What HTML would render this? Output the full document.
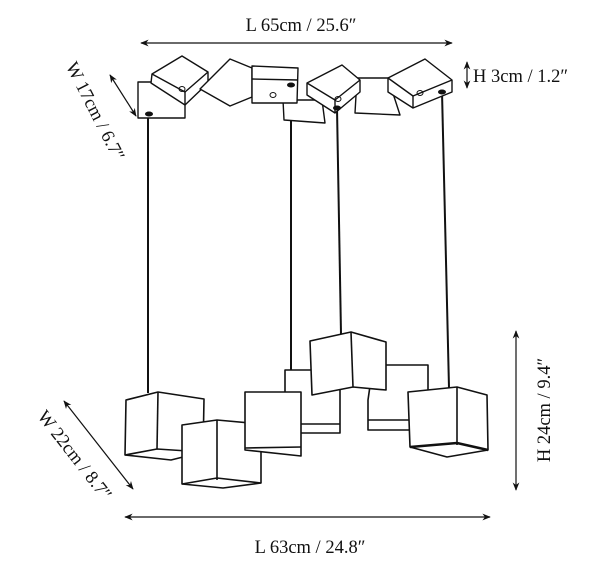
<!DOCTYPE html>
<html><head><meta charset="utf-8"><style>
html,body{margin:0;padding:0;background:#fff;}
svg{display:block;}
text{font-family:"Liberation Serif","DejaVu Serif",serif;font-size:18.5px;fill:#111;}
</style></head><body>
<svg width="600" height="573" viewBox="0 0 600 573" xmlns="http://www.w3.org/2000/svg">
<defs>
<marker id="a" viewBox="0 0 10 10" refX="9" refY="5" markerWidth="7" markerHeight="7" orient="auto-start-reverse"><path d="M0,1 L10,5 L0,9 L3,5 z" fill="#111"/></marker>
</defs>
<g stroke="#111" stroke-width="1.2" fill="none">
<line x1="141" y1="43" x2="452" y2="43" marker-start="url(#a)" marker-end="url(#a)"/>
<line x1="467" y1="62" x2="467" y2="88" marker-start="url(#a)" marker-end="url(#a)"/>
<line x1="110" y1="75" x2="136" y2="116" marker-start="url(#a)" marker-end="url(#a)"/>
<line x1="125" y1="517" x2="490" y2="517" marker-start="url(#a)" marker-end="url(#a)"/>
<line x1="516" y1="331" x2="516" y2="490" marker-start="url(#a)" marker-end="url(#a)"/>
<line x1="64" y1="401" x2="133" y2="489" marker-start="url(#a)" marker-end="url(#a)"/>
</g>
<text x="301" y="31" text-anchor="middle">L 65cm / 25.6″</text>
<text x="473" y="82">H 3cm / 1.2″</text>
<text x="310" y="553" text-anchor="middle">L 63cm / 24.8″</text>
<text transform="translate(550,410) rotate(-90)" text-anchor="middle">H 24cm / 9.4″</text>
<text transform="translate(70,459) rotate(52)" text-anchor="middle">W 22cm / 8.7″</text>
<text transform="translate(90,114) rotate(63)" text-anchor="middle">W 17cm / 6.7″</text>

<g stroke="#111" stroke-width="2">
<line x1="148" y1="114" x2="148" y2="393"/>
<line x1="291" y1="84" x2="291" y2="392"/>
<line x1="337" y1="108" x2="341" y2="334"/>
<line x1="442" y1="92" x2="449" y2="388"/>
</g>

<g stroke="#111" stroke-width="1.4" fill="#fff" stroke-linejoin="round">
<polygon points="138,82 185,82 185,118 138,118"/>
<polygon points="283,100 322,100 325,123 284,120"/>
<polygon points="357,78 388,78 400,115 355,113"/>
<polygon points="152,74 182,56 208,72 208,83 185,105 151,83"/>
<polyline points="152,74 185,92 208,72"/><line x1="185" y1="92" x2="185" y2="105"/>
<polygon points="200,89 230,59 252,68 252,97 230,106"/>
<polygon points="252,66 298,68 297,103 252,103"/>
<line x1="252" y1="79" x2="298" y2="80"/>
<polygon points="307,83 342,65 360,80 360,92 335,113 307,95"/>
<polyline points="307,83 335,100 360,80"/><line x1="335" y1="100" x2="335" y2="113"/>
<polygon points="388,78 425,59 452,80 452,92 413,108 388,92"/>
<polyline points="388,78 413,96 452,80"/><line x1="413" y1="96" x2="413" y2="108"/>
</g>
<g fill="#111">
<ellipse cx="149" cy="114" rx="4" ry="2.5"/>
<ellipse cx="291" cy="85" rx="4" ry="2.5"/>
<ellipse cx="337" cy="108" rx="4" ry="2.5"/>
<ellipse cx="442" cy="92" rx="4" ry="2.5"/>
</g>
<g fill="none" stroke="#111" stroke-width="1">
<ellipse cx="182" cy="89" rx="3" ry="2.5"/>
<ellipse cx="273" cy="95" rx="3" ry="2.5"/>
<ellipse cx="338" cy="99" rx="3" ry="2.5"/>
<ellipse cx="420" cy="93" rx="3" ry="2.5"/>
</g>

<g stroke="#111" stroke-width="1.6" fill="#fff" stroke-linejoin="round">
<polygon points="285,370 340,370 340,433 285,433"/>
<polygon points="373,365 428,365 428,430 368,430 368,400"/>
<line x1="368" y1="420" x2="428" y2="420"/>
<line x1="300" y1="424" x2="340" y2="424"/>
<polygon points="310,341 351,332 386,342 386,390 353,387 312,395"/>
<line x1="351" y1="332" x2="353" y2="387"/>
<polygon points="126,400 158,392 204,399 203,452 171,460 125,455"/>
<line x1="158" y1="392" x2="157" y2="449"/><polyline points="125,455 157,449 203,452" fill="none"/>
<polygon points="182,425 217,420 261,424 261,483 223,488 182,484"/>
<line x1="217" y1="420" x2="217" y2="480"/><polyline points="182,484 217,478 261,483" fill="none"/>
<polygon points="245,392 301,392 301,456 245,450"/>
<line x1="245" y1="448" x2="301" y2="447"/>
<polygon points="408,392 457,387 487,395 488,450 447,457 410,447"/>
<line x1="457" y1="387" x2="457" y2="445"/>
<polyline points="410,447 457,443 488,450" fill="none" stroke-width="2.5"/>
</g>
</svg>
</body></html>
